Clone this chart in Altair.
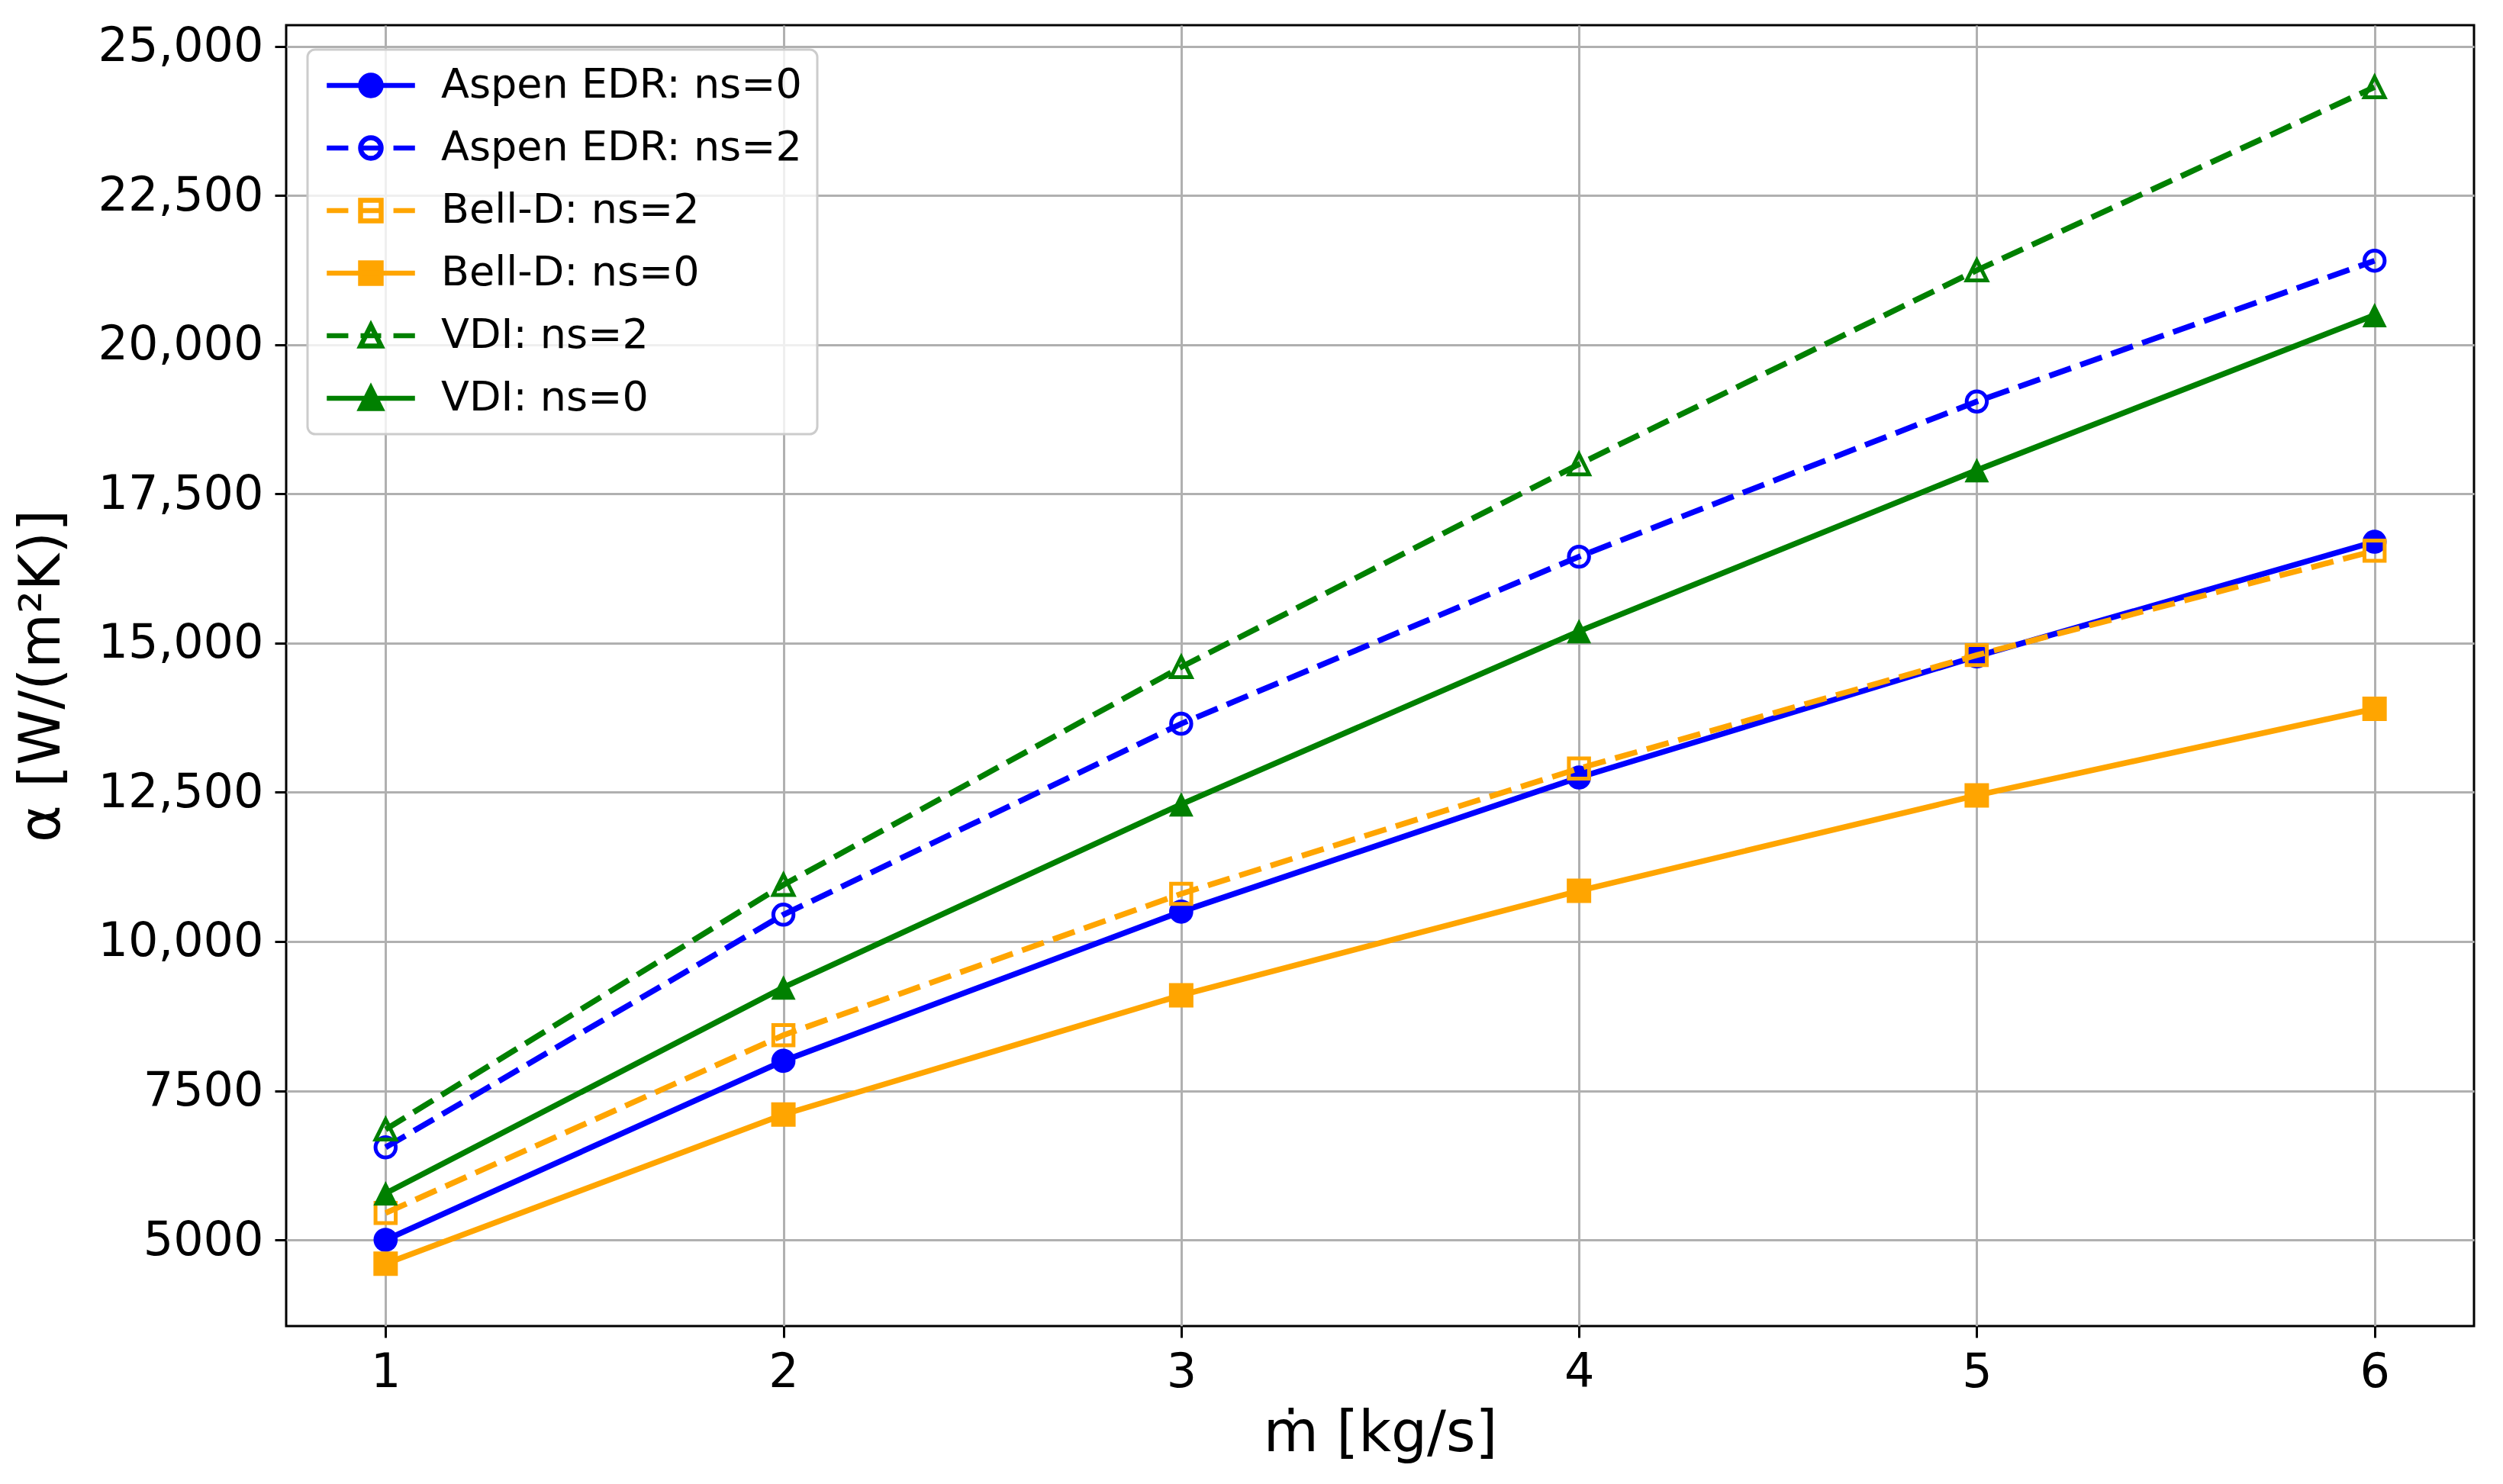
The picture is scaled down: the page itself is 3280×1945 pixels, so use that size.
import altair as alt
import pandas as pd

# ---- data ----
mdot = [1, 2, 3, 4, 5, 6]
series_names = ["Aspen EDR: ns=0", "Aspen EDR: ns=2", "Bell-D: ns=2",
                "Bell-D: ns=0", "VDI: ns=2", "VDI: ns=0"]
aspen_ns0 = [5000, 8000, 10500, 12750, 14780, 16700]
aspen_ns2 = [6550, 10450, 13650, 16450, 19050, 21410]
bell_ns2 = [5450, 8430, 10800, 12900, 14800, 16550]
bell_ns0 = [4600, 7100, 9100, 10850, 12450, 13900]
vdi_ns2 = [6850, 10950, 14600, 18000, 21250, 24320]
vdi_ns0 = [5780, 9230, 12300, 15200, 17900, 20500]
y_ticks = [5000, 7500, 10000, 12500, 15000, 17500, 20000, 22500, 25000]
x_ticks = [1, 2, 3, 4, 5, 6]

series_values = [aspen_ns0, aspen_ns2, bell_ns2, bell_ns0, vdi_ns2, vdi_ns0]

rows = []
for name, vals in zip(series_names, series_values):
    for x, v in zip(mdot, vals):
        rows.append({"mdot": x, "alpha": v, "series": name})
df = pd.DataFrame(rows)

# ---- styles ----
BLUE, ORANGE, GREEN = "#0000ff", "#ffa500", "#008000"
colors = [BLUE, BLUE, ORANGE, ORANGE, GREEN, GREEN]
dashed = [False, True, True, False, True, False]
markers = ["circle", "circle", "square", "square", "triangle", "triangle"]
filled = [True, False, False, True, False, True]

TRI = "M0,-1L1,1H-1Z"
marker_shape = {"circle": "circle", "square": "square", "triangle": TRI}
marker_path = {
    "circle": "M1,0A1,1 0 1,1 -1,0A1,1 0 1,1 1,0Z",
    "square": "M-1,-1H1V1H-1Z",
    "triangle": "M0,-1L1,1H-1Z",
}
L = 4.28
solid_line = f"M{-L},0H{L}"
dash_line = f"M{-L},0H-2.19M-1,0H1M2.19,0H{L}"
legend_shapes = [(dash_line if d else solid_line) + marker_path[m]
                 for d, m in zip(dashed, markers)]
legend_fills = [c if f else "transparent" for c, f in zip(colors, filled)]

x_scale = alt.Scale(domain=[0.75, 6.25], nice=False, zero=False)
y_scale = alt.Scale(domain=[3555, 25358], nice=False, zero=False)
x_enc = alt.X("mdot:Q", scale=x_scale,
              axis=alt.Axis(values=x_ticks, format="d", title="ṁ [kg/s]",
                            titlePadding=14))
y_enc = alt.Y("alpha:Q", scale=y_scale,
              axis=alt.Axis(values=y_ticks, title="α [W/(m²K)]", titleX=-282,
                            labelExpr="datum.value >= 10000 ? format(datum.value, ',') : format(datum.value, 'd')"))

base = alt.Chart(df)
layers = []
for name, c, d, m, f in zip(series_names, colors, dashed, markers, filled):
    sub = base.transform_filter(alt.datum.series == name)
    line_kw = dict(color=c, strokeWidth=7.5)
    if d:
        line_kw["strokeDash"] = [30, 13]
    layers.append(sub.mark_line(**line_kw).encode(x=x_enc, y=y_enc))
    if f:
        pt = sub.mark_point(shape=marker_shape[m], filled=True, color=c, opacity=1,
                            size=1000 if m == "circle" else 1024, strokeWidth=0)
    else:
        pt = sub.mark_point(shape=marker_shape[m], filled=False, color=c, opacity=1,
                            size=700, strokeWidth=5)
    layers.append(pt.encode(x=x_enc, y=y_enc))

# invisible layer that only carries the legend
legend_layer = base.mark_point(opacity=0, filled=False).encode(
    x=x_enc, y=y_enc,
    color=alt.Color("series:N", scale=alt.Scale(domain=series_names, range=colors),
                    legend=alt.Legend(title=None)),
    shape=alt.Shape("series:N", scale=alt.Scale(domain=series_names, range=legend_shapes),
                    legend=alt.Legend(title=None)),
    fill=alt.Fill("series:N", scale=alt.Scale(domain=series_names, range=legend_fills),
                  legend=alt.Legend(title=None)),
)
layers.append(legend_layer)

chart = alt.layer(*layers).properties(
    width=2867, height=1705,
    autosize=alt.AutoSizeParams(type="none"),
    padding={"left": 367, "top": 25, "right": 30, "bottom": 190},
    background="white",
).configure_view(
    stroke="black", strokeWidth=3
).configure_axis(
    labelFont="DejaVu Sans", labelFontSize=62, labelColor="black", labelLimit=1000,
    titleFont="DejaVu Sans", titleFontSize=74, titleFontWeight="normal",
    titleColor="black", tickColor="black", tickSize=15, tickWidth=3,
    gridColor="#b0b0b0", gridWidth=3, domain=False, labelPadding=15,
).configure_legend(
    orient="none", legendX=28, legendY=32,
    labelFont="DejaVu Sans", labelFontSize=54, labelColor="black", labelLimit=0,
    symbolSize=729, symbolStrokeWidth=6.5, symbolOpacity=1,
    symbolFillColor="transparent", symbolStrokeColor="black",
    symbolOffset=36, labelOffset=65,
    padding=20, rowPadding=28,
    fillColor="rgba(255,255,255,0.8)", strokeColor="#cccccc", strokeWidth=3,
    cornerRadius=10,
)

chart.save("out.html", embed_options={"renderer": "svg", "actions": False})
